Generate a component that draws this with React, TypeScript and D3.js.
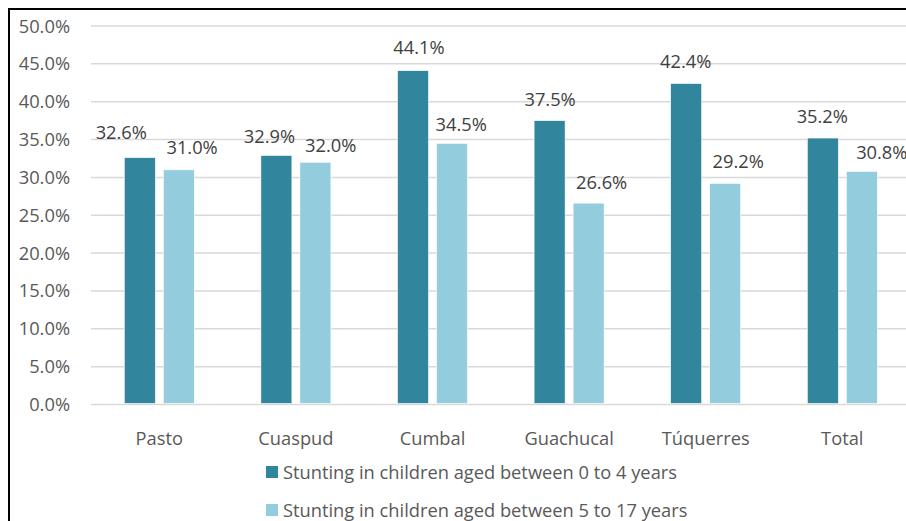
import React from "react";
import * as d3 from "d3";

const categories = ["Pasto", "Cuaspud", "Cumbal", "Guachucal", "Túquerres", "Total"];
const series0to4 = [0.326, 0.329, 0.441, 0.375, 0.424, 0.352];
const series5to17 = [0.31, 0.32, 0.345, 0.266, 0.292, 0.308];
const seriesNames = [
  "Stunting in children aged between 0 to 4 years",
  "Stunting in children aged between 5 to 17 years",
];
const yTicks = [0, 0.05, 0.1, 0.15, 0.2, 0.25, 0.3, 0.35, 0.4, 0.45, 0.5];

// label placement nudges (layout, not data)
const darkLabelDx = [-18.5, -7, 6, 0.5, -0.5, -0.5];
const darkLabelDy = [-25.7, -19.4, -22.7, -21.3, -21.8, -21.7];
const lightLabelDx = [13.3, 15.3, 9.2, 13, 13, 20];
const lightLabelDy = [-22, -16.6, -19.3, -20.8, -21.8, -18.6];

const W = 906;
const H = 521;
const colors = ["#31859C", "#93CDDD"];
const textColor = "#595959";
const font = "'Open Sans', sans-serif";
const fs = 18.3;

export default function App() {
  const step = 136.6;
  const x0 = 91;
  const x = d3.scaleBand<string>().domain(categories).range([x0, x0 + step * categories.length]).padding(0);
  const inner = d3.scaleBand<string>().domain(["a", "b"]).range([33.3, 103.3]).paddingInner(8 / 39).paddingOuter(0);
  const y = d3.scaleLinear().domain([0, 0.5]).range([404.5, 26]);
  const fmt = d3.format(".1%");
  const base = 0.357 * fs;

  const seriesList = [series0to4, series5to17];
  const dxs = [darkLabelDx, lightLabelDx];
  const dys = [darkLabelDy, lightLabelDy];

  return (
    <svg width={W} height={H} style={{ position: "absolute", left: 0, top: 0, display: "block" }} fontFamily={font}>
      <rect x={0} y={0} width={W} height={H} fill="#fff" />
      {yTicks.map((t) => (
        <g key={t}>
          <line x1={x0} x2={W + 10} y1={y(t)} y2={y(t)} stroke="#d9d9d9" strokeWidth={1.5} />
          <text x={70} y={y(t) + base} textAnchor="end" fontSize={fs} fill={textColor}>
            {fmt(t)}
          </text>
        </g>
      ))}
      {seriesList.map((vals, si) =>
        vals.map((v, i) => {
          const bx = (x(categories[i]) as number) + (inner(si === 0 ? "a" : "b") as number);
          const bw = inner.bandwidth();
          return (
            <g key={`${si}-${i}`}>
              <rect x={bx} y={y(v)} width={bw} height={y(0) - y(v) - 1} fill={colors[si]} stroke="#fff" strokeWidth={0.6} />
              <text
                x={bx + bw / 2 + dxs[si][i]}
                y={y(v) + dys[si][i] + base}
                textAnchor="middle"
                fontSize={fs}
                fill="#404040"
              >
                {fmt(v)}
              </text>
            </g>
          );
        })
      )}
      {categories.map((c) => (
        <text key={c} x={(x(c) as number) + x.bandwidth() / 2} y={445} textAnchor="middle" fontSize={fs} fill={textColor}>
          {c}
        </text>
      ))}
      {seriesNames.map((n, i) => (
        <g key={n}>
          <rect x={266} y={466 + i * 38} width={12} height={12} fill={colors[i]} />
          <text x={283} y={472 + i * 38 + base} fontSize={fs} fill={textColor}>
            {n}
          </text>
        </g>
      ))}
      <rect x={9} y={9} width={W + 50} height={H + 50} fill="none" stroke="#000" strokeWidth={2} />
    </svg>
  );
}
